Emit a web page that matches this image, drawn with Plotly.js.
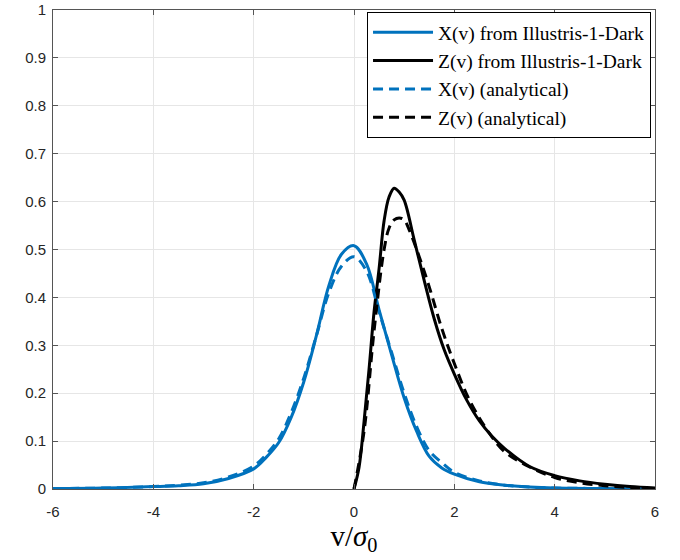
<!DOCTYPE html>
<html>
<head>
<meta charset="utf-8">
<script src="https://cdn.plot.ly/plotly-3.0.1.min.js"></script>
<style>html,body{margin:0;padding:0;background:#fff;}#chart{width:680px;height:560px;}</style>
</head>
<body>
<div id="chart"></div>
<script>
// X(v) from Illustris-1-Dark (solid blue)
const xSimV = [-6, -5, -4, -3.5, -3, -2.5, -2, -1.75, -1.5, -1.25, -1, -0.75, -0.5, -0.25, 0, 0.25, 0.5, 0.75, 1, 1.25, 1.5, 1.75, 2, 2.5, 3, 3.5, 4, 5, 6];
const xSimY = [0.001, 0.002, 0.005, 0.007, 0.011, 0.022, 0.042, 0.066, 0.097, 0.15, 0.224, 0.32, 0.425, 0.49, 0.508, 0.47, 0.374, 0.28, 0.19, 0.12, 0.068, 0.044, 0.031, 0.015, 0.008, 0.004, 0.002, 0.001, 0.0];

// Z(v) from Illustris-1-Dark (solid black)
const zSimV = [0, 0.1, 0.2, 0.3, 0.4, 0.5, 0.6, 0.7, 0.8, 0.9, 1.0, 1.2, 1.4, 1.6, 1.8, 2.0, 2.25, 2.5, 2.75, 3, 3.5, 4, 4.5, 5, 5.5, 6];
const zSimY = [0, 0.045, 0.14, 0.25, 0.37, 0.46, 0.56, 0.61, 0.628, 0.62, 0.603, 0.52, 0.435, 0.355, 0.29, 0.24, 0.185, 0.142, 0.11, 0.085, 0.047, 0.028, 0.017, 0.01, 0.005, 0.002];

// X(v) analytical (dashed blue)
const xAnaV = [-6, -5, -4, -3.5, -3, -2.5, -2, -1.75, -1.5, -1.25, -1, -0.75, -0.5, -0.25, 0, 0.25, 0.5, 0.75, 1, 1.25, 1.5, 1.75, 2, 2.5, 3, 3.5, 4, 5, 6];
const xAnaY = [0.001, 0.002, 0.005, 0.008, 0.013, 0.025, 0.048, 0.072, 0.105, 0.16, 0.232, 0.32, 0.41, 0.465, 0.485, 0.455, 0.37, 0.285, 0.2, 0.13, 0.08, 0.055, 0.035, 0.017, 0.008, 0.004, 0.002, 0.001, 0.0];

// Z(v) analytical (dashed black)
const zAnaV = [0, 0.2, 0.4, 0.6, 0.7, 0.8, 0.9, 1.0, 1.1, 1.3, 1.5, 1.75, 2.0, 2.3, 2.7, 3.0, 3.5, 4, 4.5, 5, 5.5, 6];
const zAnaY = [0, 0.12, 0.33, 0.5, 0.545, 0.562, 0.566, 0.562, 0.541, 0.485, 0.422, 0.335, 0.262, 0.186, 0.116, 0.078, 0.046, 0.024, 0.013, 0.007, 0.003, 0.001];

const seriesNames = ['X(v) from Illustris-1-Dark', 'Z(v) from Illustris-1-Dark', 'X(v) (analytical)', 'Z(v) (analytical)'];
const xTicks = [-6, -4, -2, 0, 2, 4, 6];
const yTicks = [0, 0.1, 0.2, 0.3, 0.4, 0.5, 0.6, 0.7, 0.8, 0.9, 1];

const blue = '#0072BD';
const dashPat = '10px,6px';

const traces = [
  {x: xSimV, y: xSimY, name: seriesNames[0], mode: 'lines', line: {color: blue, width: 3, shape: 'spline'}},
  {x: zSimV, y: zSimY, name: seriesNames[1], mode: 'lines', line: {color: '#000', width: 3, shape: 'spline'}},
  {x: xAnaV, y: xAnaY, name: seriesNames[2], mode: 'lines', line: {color: blue, width: 3, dash: dashPat, shape: 'spline'}},
  {x: zAnaV, y: zAnaY, name: seriesNames[3], mode: 'lines', line: {color: '#000', width: 3, dash: dashPat, shape: 'spline'}}
];

const tickFont = {family: 'Liberation Sans, Arial, sans-serif', size: 15, color: '#262626'};

const layout = {
  width: 680, height: 560,
  margin: {l: 53, r: 25, t: 10, b: 71},
  paper_bgcolor: '#fff', plot_bgcolor: '#fff',
  showlegend: true,
  legend: {
    x: 0.9934, y: 0.9958, xanchor: 'right', yanchor: 'top',
    bgcolor: '#fff', bordercolor: '#000', borderwidth: 1,
    font: {family: 'Liberation Serif, Times New Roman, serif', size: 19.5, color: '#000'},
    tracegroupgap: 0, itemwidth: 60
  },
  xaxis: {
    range: [-6, 6], tickvals: xTicks, ticktext: xTicks.map(String),
    showgrid: true, gridcolor: '#e6e6e6', gridwidth: 1,
    zeroline: false, showline: true, linecolor: '#555', linewidth: 1,
    mirror: 'allticks', ticks: 'inside', ticklen: 5, tickcolor: '#555',
    tickfont: tickFont, ticklabelstandoff: 9,
    title: {text: 'v/<i>σ</i><sub>0</sub>', font: {family: 'Liberation Serif, Times New Roman, serif', size: 29, color: '#000'}, standoff: 0}
  },
  yaxis: {
    range: [0, 1], tickvals: yTicks, ticktext: yTicks.map(String),
    showgrid: true, gridcolor: '#e6e6e6', gridwidth: 1,
    zeroline: false, showline: true, linecolor: '#555', linewidth: 1,
    mirror: 'allticks', ticks: 'inside', ticklen: 5, tickcolor: '#555',
    tickfont: tickFont, ticklabelstandoff: 3
  }
};

Plotly.newPlot('chart', traces, layout, {displayModeBar: false, staticPlot: true});
</script>
</body>
</html>
